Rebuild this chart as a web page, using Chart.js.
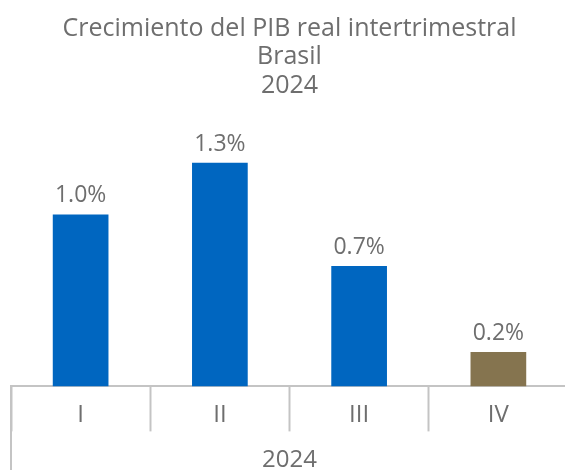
<!DOCTYPE html>
<html>
<head>
<meta charset="utf-8">
<script src="https://cdn.jsdelivr.net/npm/chart.js@4"></script>
<style>
  html, body { margin: 0; padding: 0; overflow: hidden; background: #fff; }
  #wrap { width: 568px; height: 470px; }
</style>
</head>
<body>
<div id="wrap"><canvas id="c" width="568" height="470"></canvas></div>
<script>
const titleLines = ['Crecimiento del PIB real intertrimestral', 'Brasil', '2024'];
const categories = ['I', 'II', 'III', 'IV'];
const groupLabel = '2024';
const growth = [1.0, 1.3, 0.7, 0.2];
const barColors = ['#0066C0', '#0066C0', '#0066C0', '#85744F'];

const FONT = "'Open Sans', sans-serif";
const TEXT = '#6E6E6E';
const LINE = '#C4C4C4';

const valueLabels = {
  id: 'valueLabels',
  afterDatasetsDraw(chart) {
    const ctx = chart.ctx;
    const meta = chart.getDatasetMeta(0);
    ctx.save();
    ctx.font = '23px ' + FONT;
    ctx.fillStyle = TEXT;
    ctx.textAlign = 'center';
    ctx.textBaseline = 'alphabetic';
    meta.data.forEach((bar, i) => {
      ctx.fillText(growth[i].toFixed(1) + '%', bar.x, bar.y - 12);
    });
    ctx.restore();
  }
};

const leftRule = {
  id: 'leftRule',
  afterDraw(chart) {
    const ctx = chart.ctx;
    const x = chart.scales.x.left;
    ctx.save();
    ctx.strokeStyle = LINE;
    ctx.lineWidth = 2;
    ctx.beginPath();
    ctx.moveTo(x, chart.chartArea.bottom);
    ctx.lineTo(x, chart.height);
    ctx.stroke();
    ctx.restore();
  }
};

new Chart(document.getElementById('c'), {
  type: 'bar',
  data: {
    labels: categories,
    datasets: [{
      data: growth,
      backgroundColor: barColors,
      borderWidth: 0,
      categoryPercentage: 0.8,
      barPercentage: 0.5
    }]
  },
  options: {
    responsive: false,
    animation: false,
    layout: { padding: { left: 11, right: 0, top: 0, bottom: 0 } },
    plugins: {
      legend: { display: false },
      tooltip: { enabled: false },
      title: {
        display: true,
        text: titleLines,
        color: TEXT,
        font: { family: FONT, size: 25, weight: '400', lineHeight: 1.15 },
        padding: { top: 14, bottom: 11 }
      }
    },
    scales: {
      y: { display: false, min: 0, max: 1.6 },
      x: {
        offset: true,
        border: { display: true, color: LINE, width: 2 },
        grid: {
          display: true,
          offset: true,
          drawOnChartArea: false,
          drawTicks: true,
          tickLength: 45,
          tickWidth: 2,
          tickColor: LINE,
          color: LINE
        },
        ticks: {
          color: TEXT,
          font: { family: FONT, size: 24, lineHeight: 1.2 },
          padding: -31
        },
        title: {
          display: true,
          text: groupLabel,
          color: TEXT,
          font: { family: FONT, size: 24, lineHeight: 1.2 },
          padding: { top: 48, bottom: -5 }
        }
      }
    }
  },
  plugins: [valueLabels, leftRule]
});
</script>
</body>
</html>
